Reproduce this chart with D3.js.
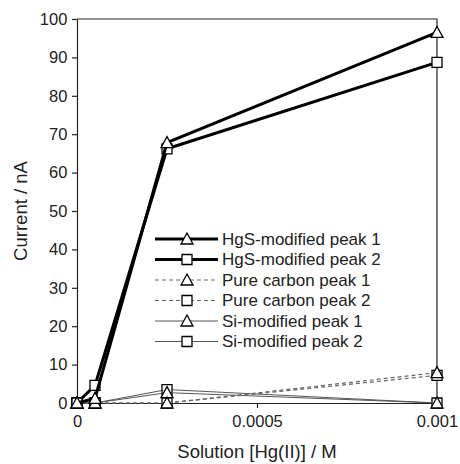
<!DOCTYPE html>
<html>
<head>
<meta charset="utf-8">
<script src="https://cdn.jsdelivr.net/npm/d3@7"></script>
<style>
  body { margin: 0; background: #fff; }
  text { font-family: "Liberation Sans", Arial, sans-serif; fill: #222; }
</style>
</head>
<body>
<div id="chart"></div>
<script>
// concentrations of Hg(II) in M
const concentrations = [0, 0.00005, 0.00025, 0.001]
const hgsPeak1 = [0, 1.2, 67.8, 96.5]
const hgsPeak2 = [0, 4.6, 66.2, 88.7]
const carbonPeak1 = [0, 0, 0, 7.9]
const carbonPeak2 = [0, 0, 0, 7.2]
const siPeak1 = [0, 0, 2.7, 0]
const siPeak2 = [0, 0, 3.5, 0]
const seriesNames = ['HgS-modified peak 1', 'HgS-modified peak 2', 'Pure carbon peak 1',
    'Pure carbon peak 2', 'Si-modified peak 1', 'Si-modified peak 2']
const yTicks = [0, 10, 20, 30, 40, 50, 60, 70, 80, 90, 100]
const xTicks = [0, 0.0005, 0.001]

const width = 460
const height = 464
const margin = { top: 19, right: 23, bottom: 61, left: 77 }

const series = [
    { name: seriesNames[0], values: hgsPeak1, marker: 'tri', width: 3, color: '#000', dash: null },
    { name: seriesNames[1], values: hgsPeak2, marker: 'sq', width: 3, color: '#000', dash: null },
    { name: seriesNames[2], values: carbonPeak1, marker: 'tri', width: 1.2, color: '#666', dash: '4,3' },
    { name: seriesNames[3], values: carbonPeak2, marker: 'sq', width: 1.2, color: '#666', dash: '4,3' },
    { name: seriesNames[4], values: siPeak1, marker: 'tri', width: 1, color: '#555', dash: null },
    { name: seriesNames[5], values: siPeak2, marker: 'sq', width: 1, color: '#555', dash: null }
]

const svg = d3.select('#chart')
    .append('svg')
    .attr('width', width)
    .attr('height', height)

const x = d3.scaleLinear()
    .domain([0, 0.001])
    .range([margin.left, width - margin.right])

const y = d3.scaleLinear()
    .domain([0, 100])
    .range([height - margin.bottom, margin.top])

// frame (top + right)
svg.append('path')
    .attr('d', `M${margin.left},${margin.top}H${width - margin.right}V${height - margin.bottom}`)
    .attr('fill', 'none')
    .attr('stroke', '#222')
    .attr('stroke-width', 1.2)

const xAxis = svg.append('g')
    .attr('transform', `translate(0,${height - margin.bottom})`)
    .call(d3.axisBottom(x).tickValues(xTicks).tickFormat(d => String(d)).tickSize(5).tickSizeOuter(0))
xAxis.selectAll('text').attr('font-size', '16.5px').attr('dy', '0.95em')

const yAxis = svg.append('g')
    .attr('transform', `translate(${margin.left},0)`)
    .call(d3.axisLeft(y).tickValues(yTicks).tickSize(5).tickSizeOuter(0))
yAxis.selectAll('text').attr('font-size', '16.5px').attr('dx', '-0.1em')

svg.selectAll('.domain, .tick line').attr('stroke', '#222').attr('stroke-width', 1.2)

function markerPath(type, cx, cy) {
    if (type === 'tri') {
        return `M${cx},${cy - 6}L${cx + 6},${cy + 5}L${cx - 6},${cy + 5}Z`
    }
    return `M${cx - 5},${cy - 5}h10v10h-10Z`
}

const line = d3.line()
    .x((d, i) => x(concentrations[i]))
    .y(d => y(d))

// draw thin series first, thick on top
const drawOrder = [5, 4, 3, 2, 1, 0]
drawOrder.forEach(k => {
    const s = series[k]
    const g = svg.append('g')
    g.append('path')
        .attr('d', line(s.values))
        .attr('fill', 'none')
        .attr('stroke', s.color)
        .attr('stroke-width', s.width)
        .attr('stroke-dasharray', s.dash)
    g.selectAll('path.m')
        .data(s.values)
        .join('path')
        .attr('class', 'm')
        .attr('d', (d, i) => markerPath(s.marker, x(concentrations[i]), y(d)))
        .attr('fill', '#fff')
        .attr('stroke', '#000')
        .attr('stroke-width', 1.3)
})

// legend
const legend = svg.append('g')
series.forEach((s, i) => {
    const ly = 239 + i * 20.5
    legend.append('line')
        .attr('x1', 155).attr('x2', 218)
        .attr('y1', ly).attr('y2', ly)
        .attr('stroke', s.color)
        .attr('stroke-width', s.width)
        .attr('stroke-dasharray', s.dash)
    legend.append('path')
        .attr('d', markerPath(s.marker, 187, ly))
        .attr('fill', '#fff')
        .attr('stroke', '#000')
        .attr('stroke-width', 1.3)
    legend.append('text')
        .attr('x', 222).attr('y', ly)
        .attr('dy', '0.35em')
        .attr('font-size', '17px')
        .text(s.name)
})

svg.append('text')
    .attr('x', (margin.left + width - margin.right) / 2)
    .attr('y', 458)
    .attr('text-anchor', 'middle')
    .attr('font-size', '18.5px')
    .text('Solution [Hg(II)] / M')

svg.append('text')
    .attr('transform', `translate(27,${(margin.top + height - margin.bottom) / 2}) rotate(-90)`)
    .attr('text-anchor', 'middle')
    .attr('font-size', '18.5px')
    .text('Current / nA')
</script>
</body>
</html>
